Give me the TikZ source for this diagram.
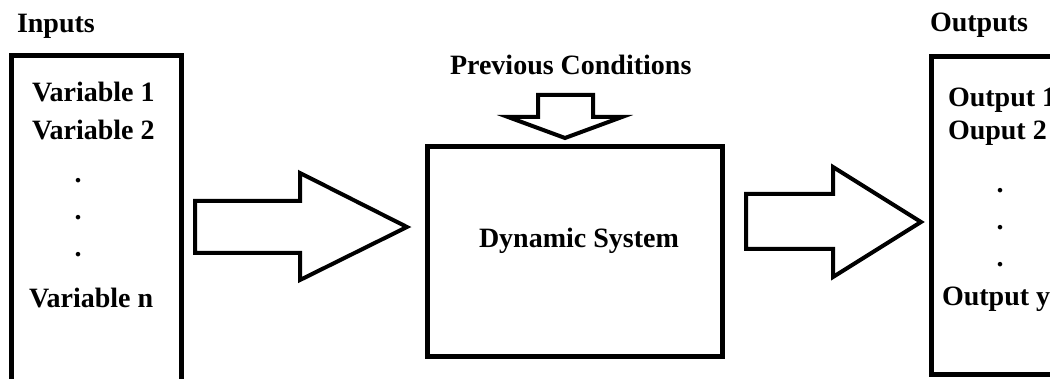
\documentclass[tikz,border=0pt]{standalone}
\usepackage{fontspec}
\setmainfont{Liberation Serif}
\usetikzlibrary{calc}
\begin{document}
\begin{tikzpicture}[x=1pt,y=-1pt,
  lbl/.style={anchor=base west,inner sep=0pt,outer sep=0pt,font=\bfseries\fontsize{28}{34}\selectfont},
  dotlbl/.style={anchor=base,inner sep=0pt,outer sep=0pt,font=\bfseries\fontsize{28}{34}\selectfont},
  boxst/.style={draw=black,line width=5pt,rectangle,inner sep=0pt,outer sep=0pt,anchor=north west},
  blockarr/.style={draw=black,line width=4pt,line join=miter,fill=white}]
\useasboundingbox (0,0) rectangle (1050,379);
\clip (0,0) rectangle (1050,379);
\fill[white] (0,0) rectangle (1050,379);

% boxes
\node[boxst,minimum width=170pt,minimum height=344pt] (inbox) at (11,56) {};
\node[boxst,minimum width=295pt,minimum height=210pt] (dyn) at (427,147) {};
\node[boxst,minimum width=200pt,minimum height=318pt] (outbox) at (931,57) {};

% labels
\node[lbl] (inputs) at (17,33) {Inputs};
\node[lbl] (v1) at (32,102) {Variable 1};
\node[lbl] (v2) at (32,140) {Variable 2};
\node[dotlbl] (vd1) at (78,182.5) {.};
\node[dotlbl] (vd2) at (78,219.5) {.};
\node[dotlbl] (vd3) at (78,256.5) {.};
\node[lbl] (vn) at (29,308) {Variable n};

\node[lbl] (prev) at (450,75) {Previous Conditions};
\node[lbl] (dyntxt) at (479,248) {Dynamic System};

\node[lbl] (outputs) at (930,32) {Outputs};
\node[lbl] (o1) at (948,107) {Output 1};
\node[lbl] (o2) at (948,140) {Ouput 2};
\node[dotlbl] (od1) at (1000,192.5) {.};
\node[dotlbl] (od2) at (1000,229.5) {.};
\node[dotlbl] (od3) at (1000,266.5) {.};
\node[lbl] (oy) at (942,306) {Output y};

% arrow end points
\coordinate (a1t) at ($(inbox.north east)+(14,171)$);   % (195,227)
\coordinate (a1h) at ($(dyn.west |- a1t)+(-20,0)$);     % (407,227)
\coordinate (a2t) at ($(dyn.north east)+(24,75)$);      % (746,222)
\coordinate (a2h) at ($(outbox.west |- a2t)+(-10,0)$);  % (921,222)
\coordinate (a3t) at (565.5,95);
\coordinate (a3h) at ($(dyn.north)+(-9.5,-9)$);         % (565,138)

% left arrow
\draw[blockarr] ($(a1t)+(0,-26)$) -- ($(a1t)+(105,-26)$) -- ($(a1t)+(105,-54)$)
  -- (a1h) -- ($(a1t)+(105,53)$) -- ($(a1t)+(105,26)$) -- ($(a1t)+(0,26)$) -- cycle;
% right arrow
\draw[blockarr] ($(a2t)+(0,-28)$) -- ($(a2t)+(87,-28)$) -- ($(a2t)+(87,-55)$)
  -- (a2h) -- ($(a2t)+(87,55)$) -- ($(a2t)+(87,27)$) -- ($(a2t)+(0,27)$) -- cycle;
% down arrow
\draw[blockarr] ($(a3t)+(-27.5,0)$) -- ($(a3t)+(27.5,0)$) -- ($(a3t)+(27.5,22)$)
  -- ($(a3t)+(56.5,22)$) -- (a3h) -- ($(a3t)+(-57.5,22)$) -- ($(a3t)+(-27.5,22)$) -- cycle;
\end{tikzpicture}
\end{document}
